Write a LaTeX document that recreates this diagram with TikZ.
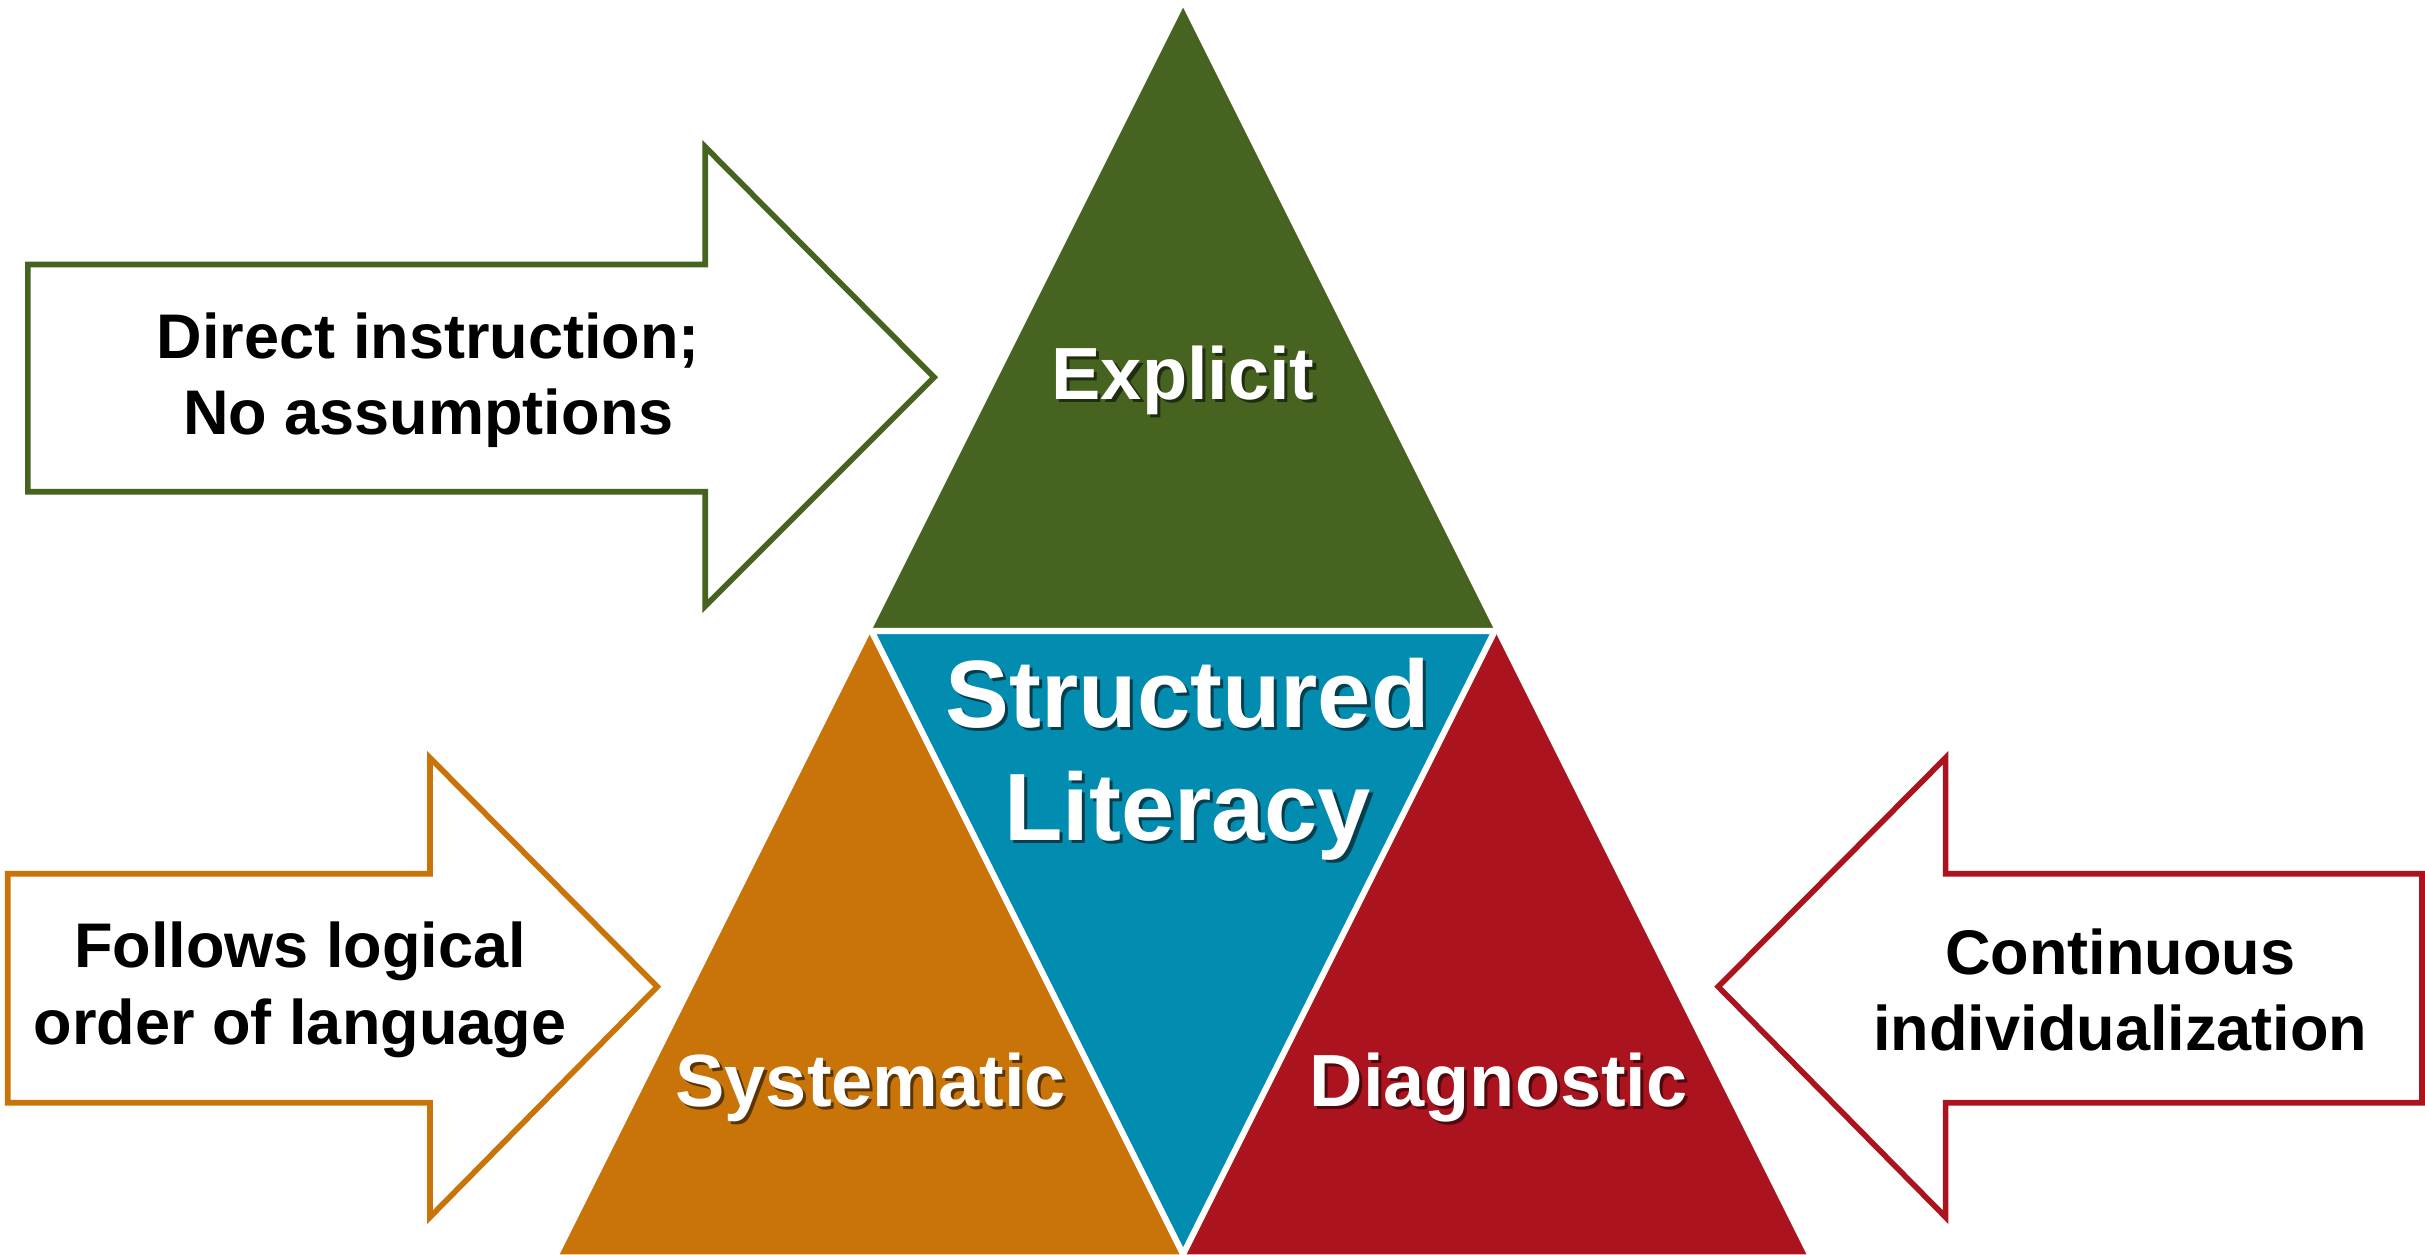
\documentclass[tikz,border=0pt]{standalone}
\usepackage{fontspec}
\setmainfont{Liberation Sans}
\usepackage{tikz}

\definecolor{explgreen}{RGB}{70,99,31}
\definecolor{sysorange}{RGB}{200,116,8}
\definecolor{litblue}{RGB}{2,140,176}
\definecolor{diagred}{RGB}{171,20,30}

% white text with a dark copy behind it
\newcommand{\shd}[2]{\rlap{\kern1.4pt\raisebox{-1.4pt}{\color{#1}#2}}#2}

\tikzset{
	arrowbox/.style={line width=2.6pt, fill=white, line join=miter},
	arrowtext/.style={font=\fontsize{29}{35}\selectfont\bfseries, align=center},
	cornertext/.style={font=\fontsize{34}{40}\selectfont\bfseries, text=white},
}

\begin{document}
\begin{tikzpicture}[x=0.25mm,y=-0.25mm]
	\useasboundingbox (0,0) rectangle (1568,811);
	% corners of the triangle
	\coordinate (top) at (765,5);
	\coordinate (bl) at (362,811);
	\coordinate (br) at (1168,811);
	\coordinate (ml) at (563.5,408);
	\coordinate (mr) at (966.5,408);
	\coordinate (mb) at (765,811);
	\fill [explgreen] (top) -- (ml) -- (mr) -- cycle;
	\fill [sysorange] (ml) -- (bl) -- (mb) -- cycle;
	\fill [diagred] (mr) -- (br) -- (mb) -- cycle;
	\filldraw [fill=litblue, draw=white, line width=2.8pt] (ml) -- (mr) -- (mb) -- cycle;
	% arrows
	\draw [arrowbox, draw=explgreen] (18,171) -- (456,171) -- (456,95) -- (604,244)
		-- (456,392) -- (456,318) -- (18,318) -- cycle;
	\draw [arrowbox, draw=sysorange] (5,565) -- (278,565) -- (278,490) -- (425,638)
		-- (278,787) -- (278,713) -- (5,713) -- cycle;
	\draw [arrowbox, draw=diagred] (1566,565) -- (1258,565) -- (1258,490) -- (1111,638)
		-- (1258,787) -- (1258,713) -- (1566,713) -- cycle;
	\node [arrowtext] (direct) at (277,246) {Direct instruction;\\No assumptions};
	\node [arrowtext] (follows) at (194,640) {Follows logical\\order of language};
	\node [arrowtext] (contin) at (1371,640) {Continuous\\individualization};
	% labels in the triangle
	\node [cornertext] (explicit) at (765,247) {\shd{explgreen!45!black}{Explicit}};
	\node [cornertext] (system) at (563,704) {\shd{sysorange!45!black}{Systematic}};
	\node [cornertext] (diagn) at (969,704) {\shd{diagred!45!black}{Diagnostic}};
	\node [font=\fontsize{44}{52}\selectfont\bfseries, text=white, align=center] (struct) at (768,492)
		{\shd{litblue!45!black}{Structured}\\\shd{litblue!45!black}{Literacy}};
\end{tikzpicture}
\end{document}
